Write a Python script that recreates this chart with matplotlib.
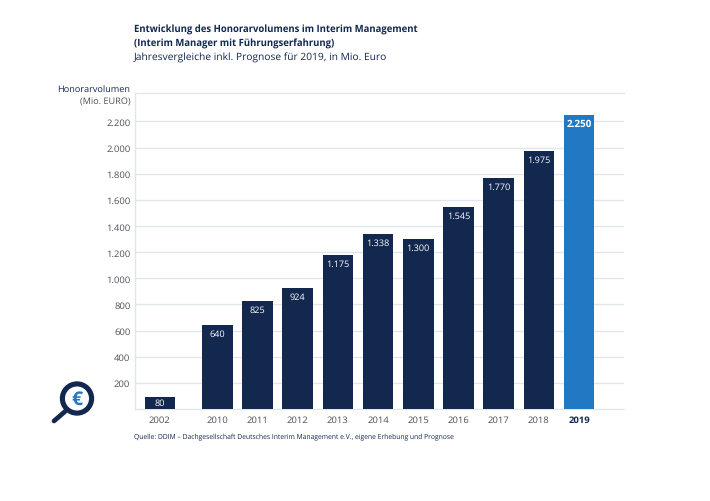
import matplotlib
matplotlib.use("Agg")
import matplotlib.pyplot as plt
from matplotlib.patches import Circle

plt.rcParams["font.family"] = ["Open Sans", "DejaVu Sans"]
plt.rcParams["text.hinting"] = "none"

# ------------------------------------------------------------
# data
# ------------------------------------------------------------
YEARS = ["2002", "2010", "2011", "2012", "2013", "2014", "2015", "2016", "2017", "2018", "2019"]
# the 2002 bar is drawn taller in the source than its "80" label says
VALUES = [92, 640, 825, 924, 1175, 1338, 1300, 1545, 1770, 1975, 2250]
VALUE_LABELS = ["80", "640", "825", "924", "1.175", "1.338", "1.300", "1.545", "1.770", "1.975", "2.250"]
Y_TICKS = [200, 400, 600, 800, 1000, 1200, 1400, 1600, 1800, 2000, 2200]
Y_TICK_LABELS = ["200", "400", "600", "800", "1.000", "1.200", "1.400", "1.600", "1.800", "2.000", "2.200"]

NAVY = "#12284f"
BLUE = "#2279c3"
GRID = "#dfe6ec"
TEXT = "#4a4f57"

W, H = 710, 502

# plot area in pixels
LEFT, RIGHT, TOP, BOTTOM = 134.5, 624.0, 94.2, 410.0
YMAX = 2416
XMIN, XMAX = -2.06, 10.12
# 2002 sits a bit further away from the 2010 bar (gap in the time axis)
x_pos = [-1.43] + list(range(10))

fig = plt.figure(figsize=(W / 100, H / 100), dpi=100)
ax = fig.add_axes([LEFT / W, 1 - BOTTOM / H, (RIGHT - LEFT) / W, (BOTTOM - TOP) / H])

colors = [NAVY] * 10 + [BLUE]
ax.bar(x_pos, VALUES, width=0.76, color=colors, zorder=3)

for i, (x, v) in enumerate(zip(x_pos, VALUES)):
    is_last = i == len(VALUES) - 1
    offset = -6.2 if v > 100 else -4.0
    ax.annotate(VALUE_LABELS[i], (x, v), xytext=(0, offset), textcoords="offset points",
                ha="center", va="center", color="white", fontsize=7.1 if is_last else 6.6,
                fontweight="bold" if is_last else "normal", zorder=4)

ax.set_xlim(XMIN, XMAX)
ax.set_ylim(0, YMAX)
ax.set_yticks(Y_TICKS)
ax.set_yticklabels(Y_TICK_LABELS)
ax.set_xticks(x_pos)
ax.set_xticklabels(YEARS)

ax.tick_params(axis="both", length=0, labelsize=6.8, labelcolor=TEXT)
ax.tick_params(axis="y", pad=3)
ax.tick_params(axis="x", pad=4.5)
ax.get_xticklabels()[-1].set_fontweight("bold")
ax.get_xticklabels()[-1].set_color(NAVY)
ax.grid(axis="y", color=GRID, linewidth=1, zorder=0)
ax.set_axisbelow(True)
ax.spines["right"].set_visible(False)
for side in ["top", "left", "bottom"]:
    ax.spines[side].set_color(GRID)
    ax.spines[side].set_linewidth(1)

# overlay in pixel coordinates for titles and the icon
ov = fig.add_axes([0, 0, 1, 1], zorder=5)
ov.set_xlim(0, W)
ov.set_ylim(H, 0)
ov.axis("off")

ov.text(134, 30, "Entwicklung des Honorarvolumens im Interim Management",
        fontsize=6.85, fontweight="bold", color=NAVY, va="center")
ov.text(134, 44, "(Interim Manager mit Führungserfahrung)",
        fontsize=6.85, fontweight="bold", color=NAVY, va="center")
ov.text(134, 57.5, "Jahresvergleiche inkl. Prognose für 2019, in Mio. Euro",
        fontsize=7.4, color=NAVY, va="center")

ov.text(130.5, 90, "Honorarvolumen", fontsize=6.6, color=NAVY, ha="right", va="center")
ov.text(130.5, 102, "(Mio. EURO)", fontsize=6.6, color=TEXT, ha="right", va="center")

ov.text(134, 437, "Quelle: DDIM – Dachgesellschaft Deutsches Interim Management e.V., eigene Erhebung und Prognose",
        fontsize=4.9, color=NAVY, va="center")

# magnifier icon
ov.plot([65, 54], [412.5, 422], color=NAVY, linewidth=3.4, solid_capstyle="round")
ov.add_patch(Circle((77, 399.5), 14.6, facecolor="white", edgecolor=NAVY, linewidth=3.7))
ov.text(76.5, 399.5, "€", fontsize=14, fontweight="bold", color=BLUE, ha="center", va="center")

fig.savefig("out.png", dpi=100)
